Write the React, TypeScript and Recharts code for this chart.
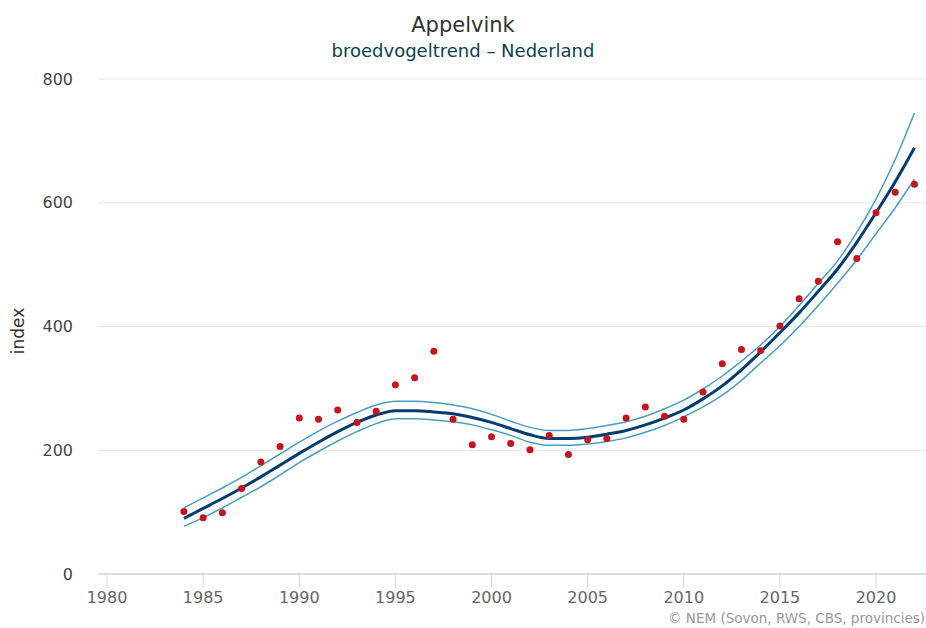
import {
  ComposedChart,
  Line,
  Scatter,
  XAxis,
  YAxis,
  CartesianGrid,
} from "recharts";

const years = [
  1984, 1985, 1986, 1987, 1988, 1989, 1990, 1991, 1992, 1993, 1994, 1995, 1996,
  1997, 1998, 1999, 2000, 2001, 2002, 2003, 2004, 2005, 2006, 2007, 2008, 2009,
  2010, 2011, 2012, 2013, 2014, 2015, 2016, 2017, 2018, 2019, 2020, 2021, 2022,
];

// yearly index values (red dots)
const observed = [
  101, 91, 99, 138, 181, 206, 252, 250, 265, 245, 263, 306, 317, 360, 250, 209,
  222, 211, 201, 224, 193, 217, 219, 252, 270, 255, 250, 294, 340, 363, 361, 401,
  445, 473, 537, 510, 584, 617, 630,
];

// smoothed trend
const trend = [
  90, 106, 122, 139, 157, 176, 195, 213, 230, 245, 257, 264, 264, 262, 259, 253,
  245, 235, 225, 219, 219, 221, 226, 232, 241, 252, 265, 283, 304, 330, 359, 390,
  422, 457, 493, 536, 584, 634, 689,
];

const upper = [
  107, 123, 139, 156, 175, 194, 213, 231, 247, 261, 273, 279, 279, 277, 273, 267,
  258, 247, 237, 232, 232, 235, 240, 246, 255, 267, 281, 299, 320, 344, 370, 400,
  434, 470, 506, 552, 606, 670, 745,
];

const lower = [
  77, 91, 107, 124, 141, 160, 180, 198, 215, 230, 243, 251, 251, 249, 246, 241,
  233, 224, 213, 208, 208, 210, 214, 220, 229, 240, 254, 270, 289, 313, 341, 369,
  400, 434, 470, 508, 550, 592, 638,
];

const xTicks = [1980, 1985, 1990, 1995, 2000, 2005, 2010, 2015, 2020];
const yTicks = [0, 200, 400, 600, 800];

const data = years.map((year, i) => ({
  year,
  obs: observed[i],
  trend: trend[i],
  hi: upper[i],
  lo: lower[i],
}));

const FONT = "'DejaVu Sans', Verdana, sans-serif";
const BAND = "#4a9cc4";
const MAIN = "#003d6e";
const DOT = "#c4141c";

export default function App() {
  return (
    <div style={{ position: "absolute", left: 0, top: 0, width: 926, height: 628, background: "#fff", fontFamily: FONT }}>
      <ComposedChart
        width={926}
        height={628}
        data={data}
        margin={{ top: 79, right: 0, bottom: 0, left: 0 }}
      >
        <CartesianGrid vertical={false} stroke="#e6e6e6" />
        <XAxis
          dataKey="year"
          type="number"
          domain={[1979.53, 2022.6]}
          ticks={xTicks}
          allowDataOverflow
          height={54}
          tickSize={14}
          tickMargin={4}
          axisLine={{ stroke: "#ccd6eb", strokeWidth: 1.5 }}
          tickLine={{ stroke: "#ccd6eb" }}
          tick={{ fill: "#666", fontSize: 16, fontFamily: FONT }}
        />
        <YAxis
          type="number"
          domain={[0, 800]}
          ticks={yTicks}
          width={98}
          axisLine={false}
          tickLine={false}
          tickMargin={19}
          tick={{ fill: "#444", fontSize: 16, fontFamily: FONT }}
        />
        <Line
          type="monotone"
          dataKey="hi"
          stroke={BAND}
          strokeWidth={1.5}
          dot={false}
          isAnimationActive={false}
        />
        <Line
          type="monotone"
          dataKey="lo"
          stroke={BAND}
          strokeWidth={1.5}
          dot={false}
          isAnimationActive={false}
        />
        <Line
          type="monotone"
          dataKey="trend"
          stroke={MAIN}
          strokeWidth={3}
          dot={false}
          isAnimationActive={false}
        />
        <Scatter
          dataKey="obs"
          isAnimationActive={false}
          shape={(p: any) => <circle cx={p.cx} cy={p.cy} r={3.5} fill={DOT} />}
        />
      </ComposedChart>
      <svg
        width={926}
        height={628}
        style={{ position: "absolute", left: 0, top: 0, pointerEvents: "none" }}
      >
        <text x={463} y={32} textAnchor="middle" fontSize={21} fill="#333" fontFamily={FONT}>
          Appelvink
        </text>
        <text x={463} y={56.5} textAnchor="middle" fontSize={18} fill="#0b4150" fontFamily={FONT}>
          broedvogeltrend – Nederland
        </text>
        <text
          x={0}
          y={0}
          transform="translate(24 331) rotate(-90)"
          textAnchor="middle"
          fontSize={17}
          fill="#333"
          fontFamily={FONT}
        >
          index
        </text>
        <text x={925} y={623} textAnchor="end" fontSize={13.5} fill="#999" fontFamily={FONT}>
          © NEM (Sovon, RWS, CBS, provincies)
        </text>
      </svg>
    </div>
  );
}
